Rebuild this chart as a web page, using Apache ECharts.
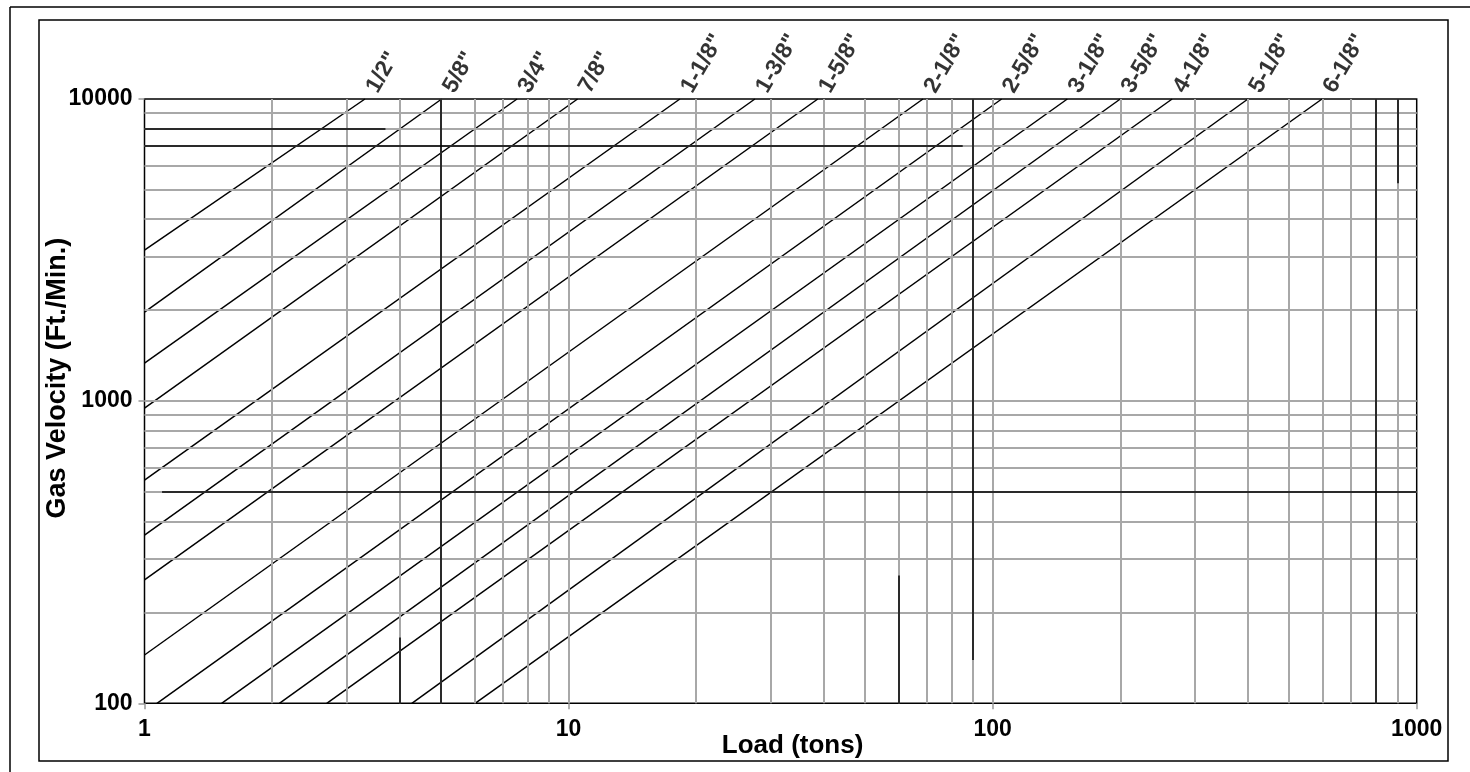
<!DOCTYPE html>
<html>
<head>
<meta charset="utf-8">
<script src="https://cdn.jsdelivr.net/npm/echarts@6/dist/echarts.min.js"></script>
<style>
html,body{margin:0;padding:0;background:#fff;}
#chart{width:1470px;height:772px;}
</style>
</head>
<body>
<div id="chart"></div>
<script>
// Pipe sizes (line labels)
const pipeSizes = ['1/2"', '5/8"', '3/4"', '7/8"', '1-1/8"', '1-3/8"', '1-5/8"', '2-1/8"',
                   '2-5/8"', '3-1/8"', '3-5/8"', '4-1/8"', '5-1/8"', '6-1/8"'];
// Start point of each line (load in tons, gas velocity in ft/min)
const startLoad     = [1, 1, 1, 1, 1, 1, 1, 1, 1.07, 1.52, 2.08, 2.69, 4.27, 6.02];
const startVelocity = [3160, 1970, 1335, 948, 548, 360, 256, 144.5, 100, 100, 100, 100, 100, 100];
// End point of each line: load at top of chart (velocity 10000 ft/min)
const endLoad       = [3.31, 5.02, 7.56, 10.5, 18.3, 27.5, 38.7, 68.5, 105, 150, 200, 265, 400, 598];
const endVelocity   = [10000, 10000, 10000, 10000, 10000, 10000, 10000, 10000, 10000, 10000, 10000, 10000, 10000, 10000];

// Axis ticks
const loadTicks = [1, 10, 100, 1000];
const velocityTicks = [100, 1000, 10000];
// Grid line values
const loadGrid = [2,3,4,5,6,7,8,9,10,20,30,40,50,60,70,80,90,100,200,300,400,500,600,700,800,900];
const velocityGrid = [200,300,400,500,600,700,800,900,1000,2000,3000,4000,5000,6000,7000,8000,9000];
// Darker (black) grid segments seen in the original: [x1, y1, x2, y2]
const darkSegments = [
  [5, 100, 5, 10000],
  [4, 100, 4, 165],
  [60, 100, 60, 265],
  [90, 139, 90, 10000],
  [800, 100, 800, 10000],
  [900, 5260, 900, 10000],
  [1, 8000, 3.7, 8000],
  [1, 7000, 85, 7000],
  [1.1, 500, 1000, 500]
];

const FONT = 'Liberation Sans, Arial, sans-serif';
const chart = echarts.init(document.getElementById('chart'));

const series = [];
// gray grid lines
series.push({
  type: 'line',
  data: [],
  z: 1,
  silent: true,
  markLine: {
    silent: true,
    symbol: ['none', 'none'],
    animation: false,
    label: { show: false },
    lineStyle: { color: '#a8a8a8', width: 2, type: 'solid' },
    data: loadGrid.map(v => ({ xAxis: v })).concat(velocityGrid.map(v => ({ yAxis: v })))
  }
});
// dark grid segments
series.push({
  type: 'line',
  data: [],
  z: 2,
  silent: true,
  markLine: {
    silent: true,
    symbol: ['none', 'none'],
    animation: false,
    label: { show: false },
    lineStyle: { color: '#000', width: 1.5, type: 'solid' },
    data: darkSegments.map(s => [{ coord: [s[0], s[1]] }, { coord: [s[2], s[3]] }])
  }
});
// pipe lines
pipeSizes.forEach((name, i) => {
  series.push({
    name: name,
    type: 'line',
    z: 3,
    symbol: 'none',
    clip: true,
    animation: false,
    lineStyle: { color: '#000', width: 1.5 },
    data: [[startLoad[i], startVelocity[i]], [endLoad[i], endVelocity[i]]]
  });
});
// labels at top end of each line
series.push({
  type: 'scatter',
  z: 4,
  symbolSize: 0,
  clip: false,
  animation: false,
  silent: true,
  data: pipeSizes.map((n, i) => ({ name: n, value: [endLoad[i], endVelocity[i]] })),
  label: {
    show: true,
    formatter: '{b}',
    position: [7, -8],
    rotate: 60,
    align: 'left',
    verticalAlign: 'middle',
    fontFamily: FONT,
    fontWeight: 'bold',
    fontSize: 23,
    color: '#000'
  }
});

const option = {
  backgroundColor: '#fff',
  animation: false,
  grid: {
    left: 144.5, top: 99, right: 53.3, bottom: 68.7,
    show: true, borderColor: '#000', borderWidth: 1.5, backgroundColor: 'transparent'
  },
  graphic: [
    { type: 'line', shape: { x1: 10, y1: 7, x2: 1470, y2: 7 }, style: { stroke: '#000', lineWidth: 1.5 } },
    { type: 'line', shape: { x1: 10, y1: 7, x2: 10, y2: 772 }, style: { stroke: '#000', lineWidth: 1.5 } },
    { type: 'rect', shape: { x: 39, y: 20, width: 1409, height: 741 }, style: { stroke: '#000', fill: 'none', lineWidth: 1.5 } }
  ],
  xAxis: {
    type: 'log', logBase: 10, min: loadTicks[0], max: loadTicks[loadTicks.length - 1],
    name: 'Load (tons)', nameLocation: 'middle', nameGap: 30, nameMoveOverlap: false,
    nameTextStyle: { fontFamily: FONT, fontWeight: 'bold', fontSize: 26, color: '#000', padding: [0, 0, 0, 24] },
    axisLine: { show: false },
    axisTick: { show: true, length: 6, lineStyle: { color: '#999', width: 1.5 } },
    axisLabel: { margin: 15, fontFamily: FONT, fontWeight: 'bold', fontSize: 23, color: '#000',
      formatter: v => String(Math.round(v)) },
    splitLine: { show: false },
    minorTick: { show: false },
    minorSplitLine: { show: false }
  },
  yAxis: {
    type: 'log', logBase: 10, min: velocityTicks[0], max: velocityTicks[velocityTicks.length - 1],
    name: 'Gas Velocity (Ft./Min.)', nameLocation: 'middle', nameGap: 73, nameMoveOverlap: false,
    nameTextStyle: { fontFamily: FONT, fontWeight: 'bold', fontSize: 27, color: '#000', padding: [0, 0, 0, 46] },
    axisLine: { show: false },
    axisTick: { show: true, length: 6, lineStyle: { color: '#999', width: 1.5 } },
    axisLabel: { margin: 12, fontFamily: FONT, fontWeight: 'bold', fontSize: 23, color: '#000',
      formatter: v => String(Math.round(v)) },
    splitLine: { show: false },
    minorTick: { show: false },
    minorSplitLine: { show: false }
  },
  series: series
};
chart.setOption(option);
</script>
</body>
</html>
